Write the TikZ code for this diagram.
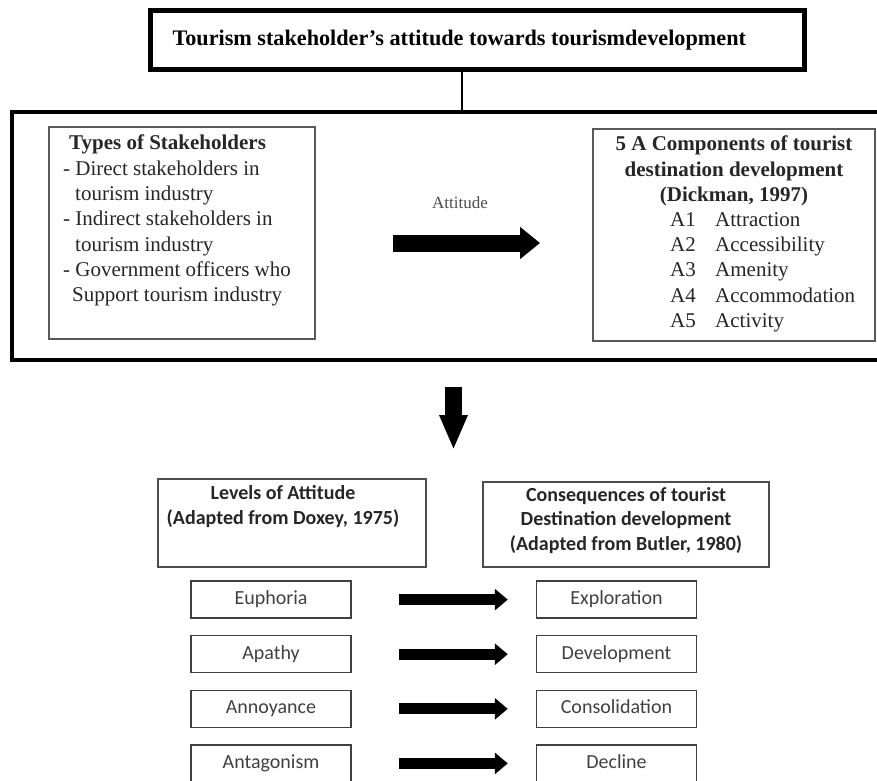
\documentclass[tikz,border=0pt]{standalone}
\usepackage{fontspec}
\setmainfont{Liberation Serif}
\newfontfamily\calfont{Carlito}
\usepackage{tikz}
\usetikzlibrary{arrows.meta,positioning}

\tikzset{
  thickbox/.style={draw, line width=5pt},
  framebox/.style={draw, line width=3.5pt},
  thinbox/.style={draw=black!65, line width=1.6pt},
  headbox/.style={draw=black!70, line width=1.5pt},
  levelbox/.style={draw=black!75, line width=1.5pt, minimum width=160pt, minimum height=37pt,
    text height=14pt, text depth=4pt,
    font=\calfont\fontsize{20}{22}\selectfont, text=black!75},
  bigarrow/.style={line width=17pt, -{Triangle[length=20pt,width=31pt]}},
  fatarrow/.style={line width=11pt, -{Triangle[length=13pt,width=21pt]}},
}

\begin{document}
\begin{tikzpicture}[x=1pt, y=-1pt]
    \useasboundingbox (0,0) rectangle (877,780);

    % heading
    \node[thickbox, minimum width=654pt, minimum height=59pt] (title) at (477.5,40) {};
    \node[anchor=west, font=\bfseries\fontsize{22.2}{26}\selectfont] (titletext) at (169,40)
        {Tourism stakeholder's attitude towards tourismdevelopment};

    % stakeholders and 5 A components
    \node[framebox, minimum width=880pt, minimum height=248pt] (frame) at (452,236) {};
    \coordinate (drop) at (462,0);
    \draw[line width=2pt] (title.south -| drop) -- (frame.north -| drop);

    \node[thinbox, minimum width=266pt, minimum height=212pt] (stake) at (182,233) {};
    \node[anchor=north west, align=left, inner sep=0pt, text=black!85,
          font=\fontsize{21}{25.3}\selectfont] (staketext) at (63,135)
        {\hspace*{6pt}\textbf{Types of Stakeholders}\\
         - Direct stakeholders in\\
         \hspace*{12pt}tourism industry\\
         - Indirect stakeholders in\\
         \hspace*{12pt}tourism industry\\
         - Government officers who\\
         \hspace*{9pt}Support tourism industry};

    \node[thinbox, minimum width=282pt, minimum height=212pt] (comp) at (734,235) {};
    \node[anchor=north, align=center, inner sep=0pt, text=black!85,
          font=\bfseries\fontsize{21}{25.3}\selectfont] (comphead) at (734,136)
        {5 A Components of tourist\\ destination development\\ (Dickman, 1997)};
    \node[anchor=north west, align=left, inner sep=0pt, text=black!85,
          font=\fontsize{21}{25.3}\selectfont] (complist) at (670,212)
        {\makebox[45pt][l]{A1}Attraction\\
         \makebox[45pt][l]{A2}Accessibility\\
         \makebox[45pt][l]{A3}Amenity\\
         \makebox[45pt][l]{A4}Accommodation\\
         \makebox[45pt][l]{A5}Activity};

    \node[text=black!70, font=\fontsize{17}{19}\selectfont] (attlabel) at (460,203) {Attitude};
    \coordinate (att1) at (393,243);
    \coordinate (att2) at (540,243);
    \draw[bigarrow] (att1) -- (att2);

    \coordinate (down1) at (453.5,387);
    \coordinate (down2) at (453.5,450);
    \draw[line width=17pt, -{Triangle[length=35pt,width=26pt]}] (down1) -- (down2);

    % levels of attitude and consequences
    \node[headbox, minimum width=268pt, minimum height=88pt] (levels) at (292,523) {};
    \node[anchor=north, align=center, inner sep=0pt, text=black!85,
          font=\calfont\bfseries\fontsize{20}{25}\selectfont] (levelstext) at (283,485)
        {Levels of Attitude\\ (Adapted from Doxey, 1975)};

    \node[headbox, minimum width=286pt, minimum height=85pt] (conseq) at (626,524.5) {};
    \node[anchor=north, align=center, inner sep=0pt, text=black!85,
          font=\calfont\bfseries\fontsize{20}{24.5}\selectfont] (conseqtext) at (626,487)
        {Consequences of tourist\\ Destination development\\ (Adapted from Butler, 1980)};

    \foreach \lvl/\con [count=\i] in {Euphoria/Exploration, Apathy/Development,
                                      Annoyance/Consolidation, Antagonism/Decline} {
        \node[levelbox] (lvl\i) at (271,545+54.6*\i) {\lvl};
        \node[levelbox] (con\i) at (616.5,545+54.6*\i) {\con};
        \draw[fatarrow, shorten <=47pt, shorten >=28pt] (lvl\i) -- (con\i);
    }
\end{tikzpicture}
\end{document}
